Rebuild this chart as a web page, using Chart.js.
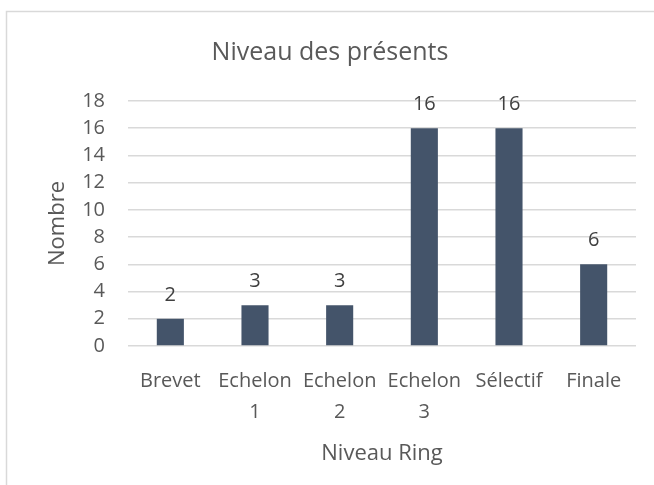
<!DOCTYPE html>
<html>
<head>
<meta charset="utf-8">
<script src="https://cdn.jsdelivr.net/npm/chart.js@4.4.0/dist/chart.umd.min.js"></script>
<style>
  html, body { margin: 0; padding: 0; background: #fff; }
  #wrap { width: 654px; height: 485px; position: relative; }
</style>
</head>
<body>
<div id="wrap"><canvas id="myChart"></canvas></div>
<script>
// Data
const categories = ['Brevet', 'Echelon 1', 'Echelon 2', 'Echelon 3', 'Sélectif', 'Finale'];
const presents = [2, 3, 3, 16, 16, 6];
const yTicks = [0, 2, 4, 6, 8, 10, 12, 14, 16, 18];

const textGrey = '#595959';
const fontName = "'Open Sans', sans-serif";

// light frame round the chart, like the Excel chart border
const framePlugin = {
  id: 'frame',
  beforeDraw(chart) {
    const ctx = chart.ctx;
    ctx.save();
    ctx.strokeStyle = '#d9d9d9';
    ctx.lineWidth = 1.5;
    ctx.beginPath();
    ctx.moveTo(6.5, chart.height);
    ctx.lineTo(6.5, 11.5);
    ctx.lineTo(chart.width, 11.5);
    ctx.stroke();
    ctx.restore();
  },
};

// value above each bar
const valueLabels = {
  id: 'valueLabels',
  afterDatasetsDraw(chart) {
    const ctx = chart.ctx;
    const meta = chart.getDatasetMeta(0);
    ctx.save();
    ctx.font = '20px ' + fontName;
    ctx.fillStyle = '#404040';
    ctx.textAlign = 'center';
    ctx.textBaseline = 'alphabetic';
    meta.data.forEach((bar, i) => {
      ctx.fillText(String(presents[i]), bar.x, bar.y - 18);
    });
    ctx.restore();
  },
};

const data = {
  labels: categories,
  datasets: [
    {
      label: 'Nombre',
      data: presents,
      backgroundColor: '#44546A',
      borderWidth: 0,
      categoryPercentage: 1,
      barPercentage: 0.32,
    },
  ],
};

const config = {
  type: 'bar',
  data: data,
  options: {
    responsive: false,
    animation: false,
    layout: { padding: { left: 6, right: 0, top: 0, bottom: 0 } },
    plugins: {
      legend: { display: false },
      tooltip: { enabled: false },
      title: {
        display: true,
        text: 'Niveau des présents',
        color: textGrey,
        font: { family: fontName, size: 25, weight: 'normal' },
        padding: { top: 38, bottom: 33 },
      },
    },
    scales: {
      x: {
        grid: { display: false, drawTicks: false },
        border: { display: false },
        ticks: {
          color: textGrey,
          font: { family: fontName, size: 20, lineHeight: 1.55 },
          padding: 20,
          maxRotation: 0,
          autoSkip: false,
          callback: function (value) {
            const label = categories[value];
            return label.indexOf(' ') > 0 ? label.split(' ') : label;
          },
        },
        title: {
          display: true,
          text: 'Niveau Ring',
          color: textGrey,
          font: { family: fontName, size: 22 },
          padding: { top: 0, bottom: 18 },
        },
        afterFit(scale) {
          scale.height = 139;
        },
      },
      y: {
        min: 0,
        max: 18,
        afterBuildTicks(scale) {
          scale.ticks = yTicks.map((v) => ({ value: v }));
        },
        grid: { color: '#d9d9d9', lineWidth: 1.5, drawTicks: false },
        border: { display: false },
        ticks: {
          color: textGrey,
          font: { family: fontName, size: 20 },
          padding: 23,
        },
        title: {
          display: true,
          text: 'Nombre',
          color: textGrey,
          font: { family: fontName, size: 22 },
          padding: { top: 39, bottom: 0 },
        },
        afterFit(scale) {
          scale.width = 122;
        },
      },
      // empty right-hand axis, only keeps the white margin on the right
      yRight: {
        position: 'right',
        min: 0,
        max: 18,
        grid: { display: false, drawTicks: false },
        border: { display: false },
        ticks: { display: false },
        afterFit(scale) {
          scale.width = 18;
        },
      },
    },
  },
  plugins: [framePlugin, valueLabels],
};

const canvas = document.getElementById('myChart');
canvas.width = 654;
canvas.height = 485;
const myChart = new Chart(canvas, config);
</script>
</body>
</html>
